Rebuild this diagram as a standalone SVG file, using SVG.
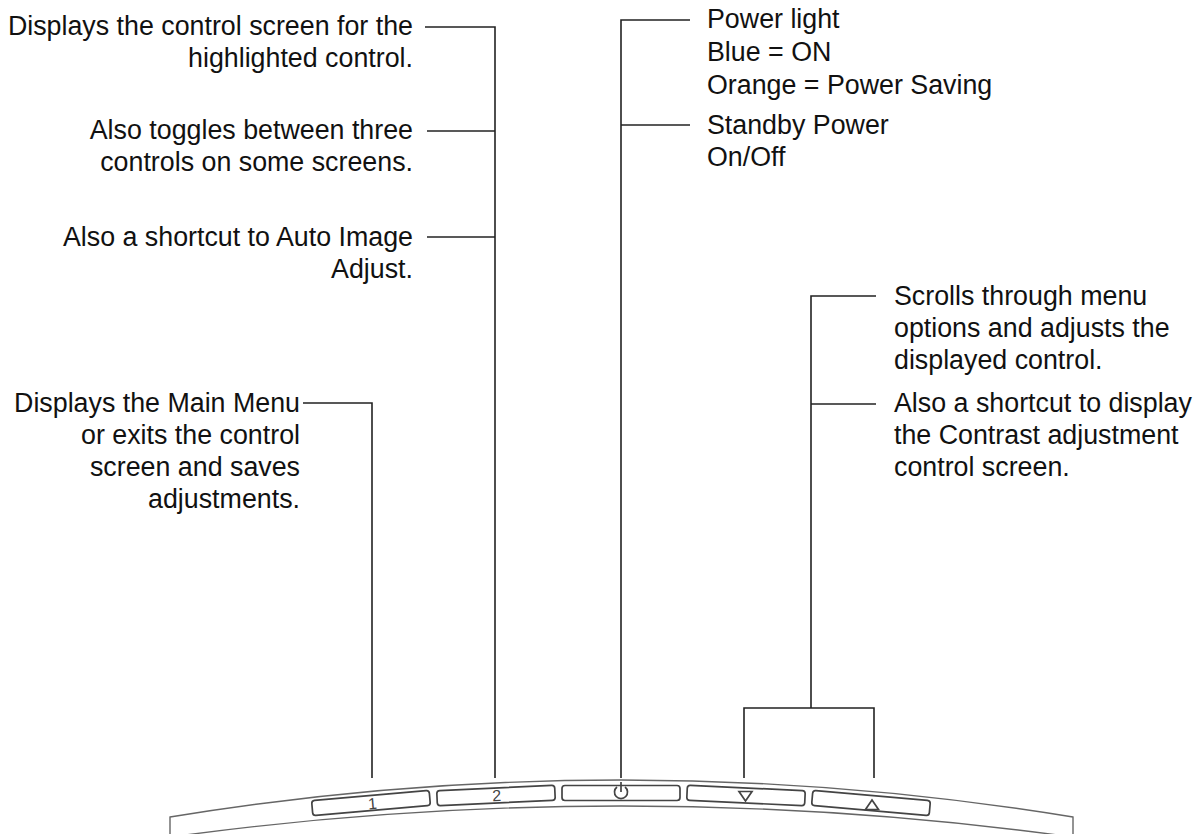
<svg xmlns="http://www.w3.org/2000/svg" width="1200" height="834" viewBox="0 0 1200 834">
<style>
.t{font-family:"Liberation Sans",Arial,Helvetica,sans-serif;font-size:26.8px;fill:#111}
.e{text-anchor:end}
.c{fill:none;stroke:#222;stroke-width:1.6}
.bz{fill:none;stroke:#666;stroke-width:1.4}
.btn{fill:#fff;stroke:#444;stroke-width:1.7}
.lb{font-family:"Liberation Sans",Arial,sans-serif;font-size:16px;fill:#444;text-anchor:middle}
.sym{fill:none;stroke:#444;stroke-width:1.7}
</style>
<rect width="1200" height="834" fill="#fff"/>

<g id="label-select">
<text class="t e" x="413" y="35">Displays the control screen for the</text>
<text class="t e" x="413" y="67">highlighted control.</text>
</g>
<g id="label-toggle">
<text class="t e" x="413" y="139">Also toggles between three</text>
<text class="t e" x="413" y="171">controls on some screens.</text>
</g>
<g id="label-auto">
<text class="t e" x="413" y="246">Also a shortcut to Auto Image</text>
<text class="t e" x="413" y="278">Adjust.</text>
</g>
<g id="label-menu">
<text class="t e" x="300" y="412">Displays the Main Menu</text>
<text class="t e" x="300" y="444">or exits the control</text>
<text class="t e" x="300" y="476">screen and saves</text>
<text class="t e" x="300" y="508">adjustments.</text>
</g>
<g id="label-power-light">
<text class="t" x="707" y="28">Power light</text>
<text class="t" x="707" y="61">Blue = ON</text>
<text class="t" x="707" y="94">Orange = Power Saving</text>
</g>
<g id="label-standby">
<text class="t" x="707" y="134">Standby Power</text>
<text class="t" x="707" y="166">On/Off</text>
</g>
<g id="label-scroll">
<text class="t" x="894" y="305">Scrolls through menu</text>
<text class="t" x="894" y="337">options and adjusts the</text>
<text class="t" x="894" y="369">displayed control.</text>
</g>
<g id="label-contrast">
<text class="t" x="894" y="412">Also a shortcut to display</text>
<text class="t" x="894" y="444">the Contrast adjustment</text>
<text class="t" x="894" y="476">control screen.</text>
</g>

<g id="connectors">
<path class="c" d="M425,27 H495 V778"/>
<path class="c" d="M427,131 H495"/>
<path class="c" d="M427,237 H495"/>
<path class="c" d="M303,403 H372 V778"/>
<path class="c" d="M690,20 H621 V778"/>
<path class="c" d="M621,125 H690"/>
<path class="c" d="M876,296 H811 V708"/>
<path class="c" d="M811,404 H876"/>
<path class="c" d="M744,778 V708 H874 V778"/>
</g>

<g id="bezel">
<path class="bz" d="M170,834 V817 Q621,743 1073,817 V834"/>
<path class="bz" d="M178,836 Q621,776 1065,836"/>
</g>

<g id="button-1">
<rect class="btn" x="-59" y="-7.5" width="118" height="15" rx="3" transform="translate(371,803) rotate(-5)"/>
<text class="lb" transform="translate(373,809) rotate(-5)">1</text>
</g>
<g id="button-2">
<rect class="btn" x="-59" y="-7.5" width="118" height="15" rx="3" transform="translate(496,795.5) rotate(-2.6)"/>
<text class="lb" transform="translate(497,801) rotate(-2.6)">2</text>
</g>
<g id="button-power">
<rect class="btn" x="-59" y="-7.5" width="118" height="15" rx="3" transform="translate(621,793)"/>
<path class="sym" d="M617,787 A6.5,6.5 0 1 0 625,787 M621,782 V792"/>
</g>
<g id="button-down">
<rect class="btn" x="-59" y="-7.5" width="118" height="15" rx="3" transform="translate(746,795.5) rotate(2.6)"/>
<path class="sym" d="M739,791.5 H752 L745.5,801 Z"/>
</g>
<g id="button-up">
<rect class="btn" x="-59" y="-7.5" width="118" height="15" rx="3" transform="translate(871,803) rotate(5)"/>
<path class="sym" d="M865.5,809.5 H878.5 L872,800 Z"/>
</g>
</svg>
